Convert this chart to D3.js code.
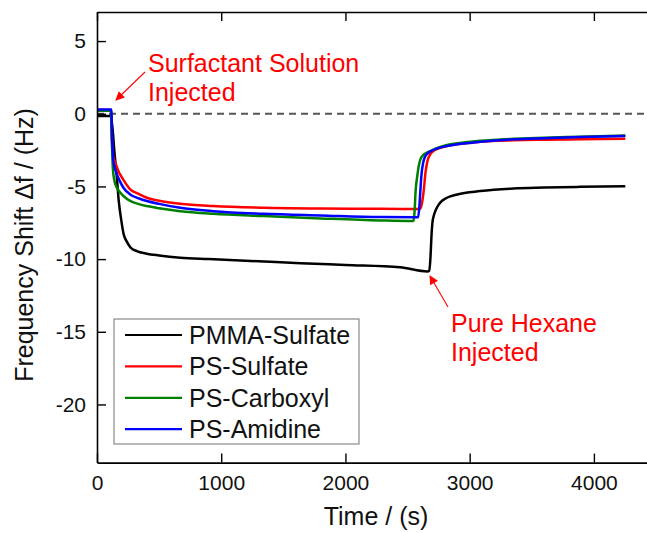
<!DOCTYPE html>
<html>
<head>
<meta charset="utf-8">
<script src="https://cdn.jsdelivr.net/npm/d3@7"></script>
<style>
  html, body { margin: 0; padding: 0; background: #fff; }
  svg { display: block; font-family: "Liberation Sans", Arial, sans-serif; }
</style>
</head>
<body>
<svg id="chart" width="647" height="533"></svg>
<script>
// QCM frequency shift traces (time in s, shift in Hz)
const seriesNames = ["PMMA-Sulfate", "PS-Sulfate", "PS-Carboxyl", "PS-Amidine"];
const seriesColors = ["#000000", "#ff0000", "#008000", "#0000ff"];

const pmmaTime = [0, 110, 125, 140, 160, 175, 195, 215, 240, 270, 320, 400, 500, 670, 900, 1300, 1640, 2000, 2440, 2660, 2675, 2685, 2692, 2700, 2715, 2740, 2770, 2817, 2900, 3085, 3352, 3600, 3890, 4253];
const pmmaShift = [-0.15, -0.15, -1.0, -2.6, -4.4, -6.0, -7.3, -8.3, -8.8, -9.2, -9.45, -9.63, -9.75, -9.9, -10.0, -10.15, -10.28, -10.4, -10.56, -10.85, -10.8, -9.8, -8.5, -7.5, -6.9, -6.4, -6.05, -5.78, -5.55, -5.32, -5.14, -5.08, -5.03, -4.98];

const psSulfateTime = [0, 113, 120, 130, 145, 170, 213, 267, 330, 401, 500, 670, 936, 1340, 1800, 2280, 2600, 2615, 2630, 2645, 2660, 2682, 2720, 2817, 2950, 3085, 3352, 3600, 3890, 4253];
const psSulfateShift = [0.25, 0.25, -1.8, -2.9, -3.3, -3.9, -4.55, -5.2, -5.5, -5.78, -5.98, -6.19, -6.35, -6.47, -6.52, -6.54, -6.56, -6.2, -5.3, -4.0, -3.26, -2.8, -2.5, -2.22, -2.05, -1.93, -1.83, -1.79, -1.76, -1.72];

const psCarboxylTime = [0, 112, 120, 128, 140, 160, 185, 213, 267, 330, 401, 500, 670, 936, 1340, 1800, 2280, 2548, 2556, 2565, 2578, 2590, 2605, 2620, 2650, 2682, 2740, 2817, 2950, 3085, 3352, 3600, 3890, 4253];
const psCarboxylShift = [0.2, 0.2, -2.0, -3.8, -4.6, -5.09, -5.4, -5.66, -6.0, -6.2, -6.35, -6.5, -6.7, -6.88, -7.04, -7.2, -7.34, -7.38, -6.8, -5.3, -4.3, -3.6, -3.1, -2.9, -2.7, -2.57, -2.35, -2.15, -1.98, -1.86, -1.72, -1.65, -1.58, -1.49];

const psAmidineTime = [0, 115, 122, 130, 145, 160, 185, 213, 267, 330, 401, 500, 670, 936, 1340, 1800, 2280, 2585, 2595, 2603, 2612, 2625, 2643, 2682, 2740, 2817, 2950, 3085, 3352, 3600, 3890, 4253];
const psAmidineShift = [0.3, 0.3, -1.8, -3.1, -3.8, -4.17, -4.65, -5.09, -5.55, -5.8, -6.0, -6.2, -6.47, -6.7, -6.88, -7.0, -7.11, -7.12, -6.4, -5.32, -4.2, -3.4, -2.91, -2.6, -2.38, -2.22, -2.05, -1.93, -1.76, -1.68, -1.6, -1.53];

const xTicks = [0, 1000, 2000, 3000, 4000];
const yTicks = [5, 0, -5, -10, -15, -20];

const series = [
  { name: seriesNames[0], color: seriesColors[0], t: pmmaTime, v: pmmaShift },
  { name: seriesNames[1], color: seriesColors[1], t: psSulfateTime, v: psSulfateShift },
  { name: seriesNames[2], color: seriesColors[2], t: psCarboxylTime, v: psCarboxylShift },
  { name: seriesNames[3], color: seriesColors[3], t: psAmidineTime, v: psAmidineShift }
];

const svg = d3.select("#chart");
const plotLeft = 97, plotRight = 656, plotTop = 12, plotBottom = 462.6;

const x = d3.scaleLinear().domain([0, 4500]).range([plotLeft, plotRight]);
const y = d3.scaleLinear().domain([-24, 7]).range([plotBottom, plotTop]);

const defs = svg.append("defs");
defs.append("clipPath").attr("id", "plot-clip")
  .append("rect").attr("x", plotLeft).attr("y", plotTop)
  .attr("width", plotRight - plotLeft).attr("height", plotBottom - plotTop);

// zero reference line
svg.append("line")
  .attr("x1", plotLeft).attr("x2", plotRight)
  .attr("y1", y(0)).attr("y2", y(0))
  .attr("stroke", "#555").attr("stroke-width", 1.8)
  .attr("stroke-dasharray", "7,5");

// traces
const line = d3.line()
  .x(d => x(d[0])).y(d => y(d[1]))
  .curve(d3.curveMonotoneX);

const traces = svg.append("g").attr("clip-path", "url(#plot-clip)");
series.forEach(s => {
  traces.append("path")
    .datum(s.t.map((t, i) => [t, s.v[i]]))
    .attr("d", line)
    .attr("fill", "none")
    .attr("stroke", s.color)
    .attr("stroke-width", 2.5)
    .attr("stroke-linejoin", "round");
});

// axes with inward ticks on all four sides
const fmt = d => String(d);
const axisStyle = g => {
  g.selectAll(".domain").attr("stroke", "#000").attr("stroke-width", 1.6);
  g.selectAll(".tick line").attr("stroke", "#000").attr("stroke-width", 1.4);
  g.selectAll("text").attr("fill", "#111").style("font-size", "21px")
    .style("font-family", '"Liberation Sans", Arial, sans-serif');
};

svg.append("g").attr("transform", `translate(0,${plotBottom})`)
  .call(d3.axisBottom(x).tickValues(xTicks).tickFormat(fmt)
    .tickSizeInner(-9).tickSizeOuter(0).tickPadding(12))
  .call(axisStyle);

svg.append("g").attr("transform", `translate(0,${plotTop})`)
  .call(d3.axisTop(x).tickValues(xTicks).tickFormat("")
    .tickSizeInner(-9).tickSizeOuter(0))
  .call(axisStyle);

svg.append("g").attr("transform", `translate(${plotLeft},0)`)
  .call(d3.axisLeft(y).tickValues(yTicks).tickFormat(fmt)
    .tickSizeInner(-9).tickSizeOuter(0).tickPadding(11))
  .call(axisStyle);

svg.append("g").attr("transform", `translate(${plotRight},0)`)
  .call(d3.axisRight(y).tickValues(yTicks).tickFormat("")
    .tickSizeInner(-9).tickSizeOuter(0))
  .call(axisStyle);

// axis titles
svg.append("text")
  .attr("x", 376).attr("y", 525)
  .attr("text-anchor", "middle")
  .style("font-size", "25px").attr("fill", "#111")
  .text("Time / (s)");

svg.append("text")
  .attr("transform", "translate(33,245) rotate(-90)")
  .attr("text-anchor", "middle")
  .style("font-size", "25px").attr("fill", "#111")
  .text("Frequency Shift \u0394f / (Hz)");

// legend
const legend = svg.append("g");
legend.append("rect")
  .attr("x", 114).attr("y", 319).attr("width", 245).attr("height", 125)
  .attr("fill", "#fff").attr("stroke", "#8a8a8a").attr("stroke-width", 1.2);
series.forEach((s, i) => {
  const ly = 335 + i * 31.4;
  legend.append("line")
    .attr("x1", 125).attr("x2", 182).attr("y1", ly).attr("y2", ly)
    .attr("stroke", s.color).attr("stroke-width", 2.2);
  legend.append("text")
    .attr("x", 189).attr("y", ly).attr("dy", "0.36em")
    .style("font-size", "25px").attr("fill", "#111")
    .text(s.name);
});

// annotations
defs.append("marker")
  .attr("id", "arrow-red")
  .attr("viewBox", "0 0 10 10").attr("refX", 9).attr("refY", 5)
  .attr("markerUnits", "userSpaceOnUse")
  .attr("markerWidth", 11).attr("markerHeight", 9)
  .attr("orient", "auto")
  .append("path").attr("d", "M0,0 L10,5 L0,10 z").attr("fill", "#ff0000");

const notes = [
  { lines: ["Surfactant Solution", "Injected"], x: 148, y: 72, from: [145, 72], to: [116, 100] },
  { lines: ["Pure Hexane", "Injected"], x: 451, y: 332, from: [448, 307], to: [430, 276] }
];
notes.forEach(n => {
  const t = svg.append("text").attr("fill", "#ff0000").style("font-size", "25px");
  n.lines.forEach((l, i) => {
    t.append("tspan").attr("x", n.x).attr("y", n.y + i * 28.5).text(l);
  });
  svg.append("line")
    .attr("x1", n.from[0]).attr("y1", n.from[1])
    .attr("x2", n.to[0]).attr("y2", n.to[1])
    .attr("stroke", "#ff0000").attr("stroke-width", 1.1)
    .attr("marker-end", "url(#arrow-red)");
});
</script>
</body>
</html>
